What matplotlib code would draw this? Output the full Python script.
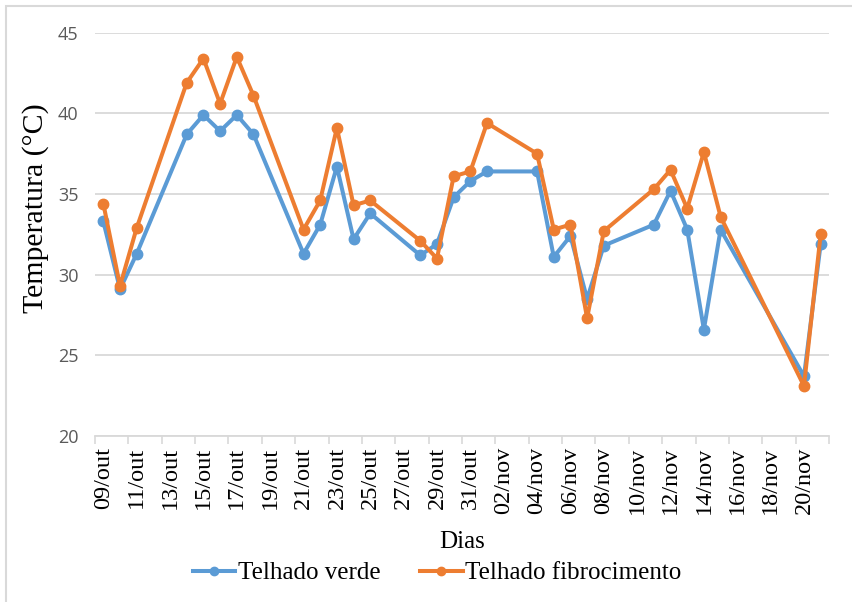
import datetime as dt
import matplotlib
matplotlib.use("Agg")
import matplotlib.pyplot as plt
from matplotlib.patches import Rectangle
from matplotlib.ticker import FixedLocator

# Measurement days (dd/mm)
dates = ["09/10", "10/10", "11/10", "14/10", "15/10", "16/10", "17/10", "18/10",
         "21/10", "22/10", "23/10", "24/10", "25/10", "28/10", "29/10", "30/10",
         "31/10", "01/11", "04/11", "05/11", "06/11", "07/11", "08/11", "11/11",
         "12/11", "13/11", "14/11", "15/11", "20/11", "21/11"]

telhado_verde = [33.3, 29.1, 31.3, 38.7, 39.9, 38.9, 39.9, 38.7, 31.3, 33.1,
                 36.7, 32.2, 33.8, 31.2, 31.9, 34.8, 35.8, 36.4, 36.4, 31.1,
                 32.4, 28.5, 31.8, 33.1, 35.2, 32.8, 26.6, 32.8, 23.7, 31.9]

telhado_fibro = [34.4, 29.3, 32.9, 41.9, 43.4, 40.6, 43.5, 41.1, 32.8, 34.6,
                 39.1, 34.3, 34.6, 32.1, 31.0, 36.1, 36.4, 39.4, 37.5, 32.8,
                 33.1, 27.3, 32.7, 35.3, 36.5, 34.1, 37.6, 33.6, 23.1, 32.5]

tick_labels = ["09/out", "11/out", "13/out", "15/out", "17/out", "19/out",
               "21/out", "23/out", "25/out", "27/out", "29/out", "31/out",
               "02/nov", "04/nov", "06/nov", "08/nov", "10/nov", "12/nov",
               "14/nov", "16/nov", "18/nov", "20/nov"]

# day offsets from the first measurement
def to_date(s):
    d, m = s.split("/")
    return dt.date(2018, int(m), int(d))

t0 = to_date(dates[0])
x = [(to_date(s) - t0).days for s in dates]
n_days = 44  # 09/out .. 21/nov

BLUE = "#5b9bd5"
ORANGE = "#ed7d31"
GRID = "#d9d9d9"
SERIF = "Liberation Serif"

fig = plt.figure(figsize=(8.52, 6.02), dpi=100)
ax = fig.add_axes([95 / 852, 1 - 436 / 602, (829 - 95) / 852, (436 - 32.7) / 602])

ax.plot(x, telhado_verde, color=BLUE, lw=2.9, marker="o", ms=7.5,
        solid_joinstyle="round", label="Telhado verde", zorder=3)
ax.plot(x, telhado_fibro, color=ORANGE, lw=2.9, marker="o", ms=7.5,
        solid_joinstyle="round", label="Telhado fibrocimento", zorder=4)

ax.set_xlim(-0.5, n_days - 0.5)
ax.set_ylim(20, 45)
ax.set_yticks([20, 25, 30, 35, 40, 45])
ax.yaxis.grid(True, color=GRID, lw=1.3)
ax.set_axisbelow(True)

ax.set_xticks(list(range(0, n_days - 1, 2)))
ax.set_xticklabels(tick_labels, rotation=90, fontfamily=SERIF, fontsize=17.5,
                   color="black")
ax.xaxis.set_minor_locator(FixedLocator([k - 0.5 for k in range(0, n_days + 1, 2)]))
ax.tick_params(axis="x", which="major", length=0, pad=8)
ax.tick_params(axis="x", which="minor", length=6, width=1.2, color=GRID)
ax.tick_params(axis="y", length=0, pad=12, labelsize=13, labelcolor="#595959")
for lab in ax.get_yticklabels():
    lab.set_fontfamily("Open Sans")

for side in ("top", "right", "left"):
    ax.spines[side].set_visible(False)
ax.spines["bottom"].set_color(GRID)
ax.spines["bottom"].set_linewidth(1.3)

ax.set_ylabel("Temperatura (°C)", fontfamily=SERIF, fontsize=21.5)
ax.yaxis.set_label_coords(-0.063, 0.566)
ax.set_xlabel("Dias", fontfamily=SERIF, fontsize=18, labelpad=12)

leg = fig.legend(loc="center", bbox_to_anchor=(437 / 852, 1 - 573 / 602),
                 ncol=2, frameon=False, prop={"family": SERIF, "size": 18},
                 handlelength=1.7, handletextpad=0.1, columnspacing=1.6,
                 markerscale=0.8)

# chart area frame
fig.add_artist(Rectangle((6 / 852, -0.1), 1.2, 1 - 6 / 602 + 0.1,
                         transform=fig.transFigure, fill=False,
                         edgecolor=GRID, lw=1.5))

fig.savefig("out.png", dpi=100)
